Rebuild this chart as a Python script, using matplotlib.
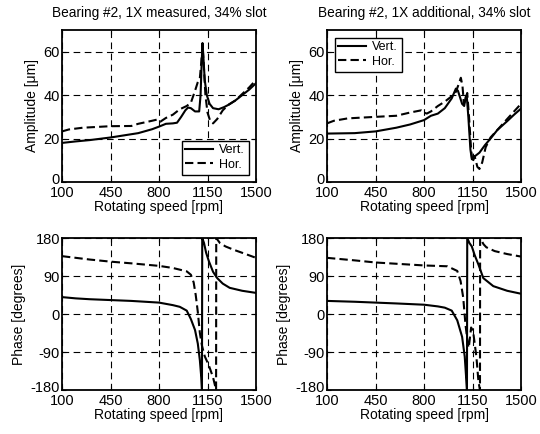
import numpy as np
import matplotlib
matplotlib.use("Agg")
import matplotlib.pyplot as plt
import matplotlib.transforms as mtransforms

plt.rcParams['font.family'] = ['Liberation Sans', 'DejaVu Sans']
plt.rcParams['axes.unicode_minus'] = False

# ---------------- data ----------------
titles = ["Bearing #2, 1X measured, 34% slot", "Bearing #2, 1X additional, 34% slot"]
xticks = [100, 450, 800, 1150, 1500]
amp_yticks = [0, 20, 40, 60]
ph_yticks = [-180, -90, 0, 90, 180]

# Top-left: measured amplitude
m_vert_x = [100, 200, 300, 450, 550, 650, 750, 800, 850, 900, 930, 960, 990, 1010, 1030, 1060, 1090, 1100, 1108, 1114, 1120, 1130, 1145, 1165, 1190, 1230, 1270, 1300, 1350, 1400, 1450, 1500]
m_vert_y = [18, 18.7, 19.3, 20.5, 21.5, 22.5, 24.3, 25.5, 26.8, 27, 27.3, 30, 33, 34.3, 34, 32.5, 32.5, 40, 55, 64, 58, 47, 40, 36, 34, 33.5, 34.5, 35.5, 37.5, 40, 42.5, 45.5]
m_hor_x = [100, 150, 250, 450, 600, 650, 750, 790, 810, 850, 900, 950, 1000, 1030, 1060, 1080, 1095, 1105, 1114, 1122, 1135, 1150, 1170, 1190, 1220, 1260, 1300, 1350, 1400, 1450, 1500]
m_hor_y = [23.3, 24.2, 25, 25.7, 25.8, 26.8, 28.2, 28.8, 27.8, 29.5, 31, 33.5, 35, 36.5, 42, 46, 48, 55, 63, 55, 40, 32, 28, 27, 29, 33, 35.5, 37.5, 40.5, 43.5, 47]

# Top-right: additional amplitude
a_vert_x = [100, 300, 450, 600, 700, 800, 850, 900, 950, 1000, 1030, 1045, 1060, 1075, 1090, 1100, 1108, 1120, 1135, 1145, 1160, 1200, 1240, 1280, 1330, 1400, 1450, 1500]
a_vert_y = [22.3, 22.5, 23.3, 25, 26.5, 28.5, 30.5, 31.5, 34, 38.5, 43, 42, 39, 36, 35, 39, 40, 30, 15, 10.5, 11.5, 13.5, 17, 20, 24, 28, 31, 33.8]
a_hor_x = [100, 150, 250, 450, 600, 700, 780, 800, 820, 850, 900, 950, 1000, 1030, 1050, 1066, 1078, 1088, 1100, 1112, 1125, 1140, 1150, 1165, 1185, 1200, 1220, 1245, 1280, 1330, 1400, 1450, 1500]
a_hor_y = [27, 28.2, 29.3, 30, 30.5, 32, 33, 32, 31.5, 32.5, 35, 37, 39.5, 41.5, 45, 48, 44, 36, 38, 41, 30, 15, 9, 12, 7, 6, 9, 16, 20.5, 24, 29, 32.5, 36]

# Bottom-left: measured phase
mp_vert_x = [100, 200, 300, 450, 600, 700, 800, 850, 900, 950, 1000, 1030, 1060, 1080, 1095, 1105, 1110, 1112, 1125, 1140, 1160, 1190, 1220, 1260, 1310, 1400, 1500]
mp_vert_y = [40, 37, 35, 33, 31, 29, 27, 24, 21, 17, 8, -12, -38, -70, -110, -150, -180, 180, 168, 145, 125, 100, 85, 72, 62, 55, 50]
mp_hor_x = [100, 200, 300, 450, 600, 700, 800, 900, 1000, 1030, 1050, 1065, 1080, 1095, 1110, 1130, 1160, 1190, 1212, 1213, 1240, 1280, 1340, 1400, 1450, 1500]
mp_hor_y = [137, 133, 129, 124, 120, 117, 114, 109, 101, 93, 75, 45, 5, -45, -75, -100, -122, -150, -180, 180, 168, 160, 152, 145, 139, 133]

# Bottom-right: additional phase
ap_vert_x = [100, 300, 450, 600, 800, 900, 950, 1000, 1040, 1075, 1094, 1106, 1110, 1112, 1128, 1145, 1165, 1193, 1228, 1300, 1400, 1500]
ap_vert_y = [31, 29, 27, 25, 22, 18, 15, 8, -15, -54, -101, -160, -180, 180, 168, 160, 140, 117, 85, 66, 55, 48]
ap_hor_x = [100, 200, 300, 450, 600, 800, 969, 1040, 1064, 1083, 1099, 1116, 1123, 1140, 1154, 1178, 1193, 1204, 1205, 1230, 1250, 1310, 1400, 1500]
ap_hor_y = [133, 130, 127, 122, 119, 115, 113, 102, 78, 39, -24, -71, -80, -32, -40, -101, -160, -180, 180, 165, 158, 149, 142, 136]

# ---------------- plotting ----------------
fig = plt.figure(figsize=(5.4, 4.34), dpi=100)

lefts = [62 / 540, 327 / 540]
width = 194 / 540
top_b = 1 - 182 / 434
bot_b = 1 - 390 / 434
height = 152 / 434

fs_tick = 10.5
fs_lab = 10
fs_title = 9.8
lw = 1.5
dash_curve = (0, (4, 2))
grid_dash = (0, (6, 4))
lift = mtransforms.ScaledTranslation(0, 4 / 100, fig.dpi_scale_trans)


def style(ax, ylim, yticks):
    ax.set_xlim(100, 1500)
    ax.set_ylim(*ylim)
    ax.set_xticks(xticks)
    ax.set_yticks(yticks)
    ax.tick_params(direction='in', length=3, width=0.8, labelsize=fs_tick,
                   top=True, right=True, colors='black')
    ax.tick_params(axis='x', pad=2.6)
    ax.tick_params(axis='y', pad=1.5)
    for s in ax.spines.values():
        s.set_linewidth(1.3)
    ax.grid(True, color='black', linestyle=grid_dash, linewidth=0.8)
    ax.set_axisbelow(True)
    ax.set_xlabel("Rotating speed [rpm]", fontsize=fs_lab, labelpad=0.5)
    lbl = ax.yaxis.get_major_ticks()[0].label1
    lbl.set_transform(lbl.get_transform() + lift)


amp_sets = [(m_vert_x, m_vert_y, m_hor_x, m_hor_y), (a_vert_x, a_vert_y, a_hor_x, a_hor_y)]
ph_sets = [(mp_vert_x, mp_vert_y, mp_hor_x, mp_hor_y), (ap_vert_x, ap_vert_y, ap_hor_x, ap_hor_y)]
legend_locs = ['lower right', 'upper left']

for i in range(2):
    ax = fig.add_axes([lefts[i], top_b, width, height])
    vx, vy, hx, hy = amp_sets[i]
    ax.plot(vx, vy, color='black', linewidth=lw, label='Vert.')
    ax.plot(hx, hy, color='black', linewidth=lw, linestyle=dash_curve, label='Hor.')
    style(ax, (0, 70), amp_yticks)
    ax.set_ylabel("Amplitude [μm]", fontsize=fs_lab, labelpad=3)
    ax.set_title(titles[i], fontsize=fs_title, pad=9)
    leg = ax.legend(loc=legend_locs[i], fontsize=9, frameon=True, fancybox=False,
                    edgecolor='black', framealpha=1, handlelength=2.2,
                    borderpad=0.3, labelspacing=0.2, handletextpad=0.5,
                    borderaxespad=0.6)
    leg.get_frame().set_linewidth(1.0)

    ax2 = fig.add_axes([lefts[i], bot_b, width, height])
    vx, vy, hx, hy = ph_sets[i]
    ax2.plot(vx, vy, color='black', linewidth=lw)
    ax2.plot(hx, hy, color='black', linewidth=lw, linestyle=dash_curve)
    style(ax2, (-180, 180), ph_yticks)
    ax2.set_ylabel("Phase [degrees]", fontsize=fs_lab, labelpad=3)

fig.savefig("out.png", dpi=100)
